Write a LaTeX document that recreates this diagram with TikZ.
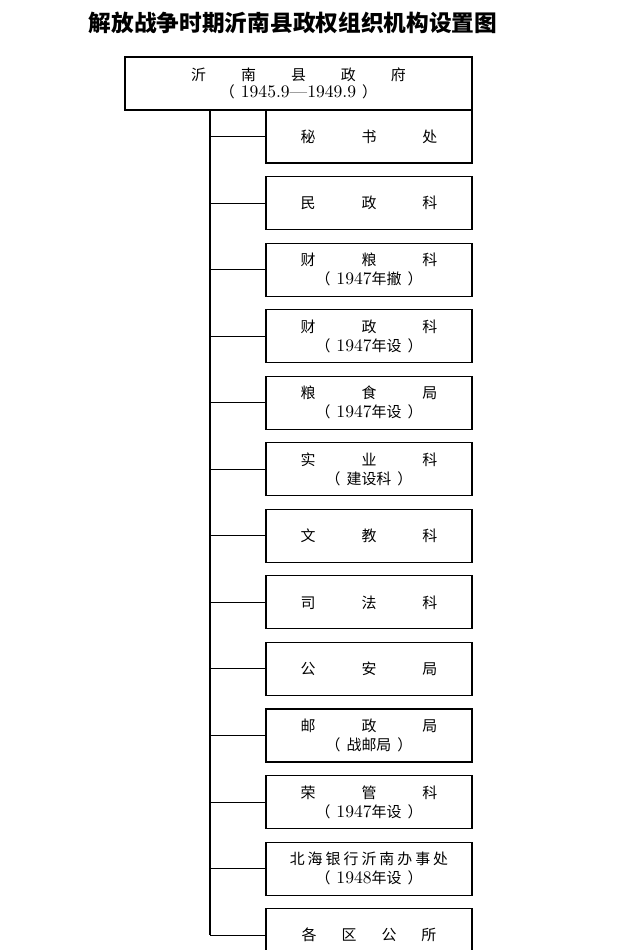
\documentclass[tikz,border=0pt]{standalone}
\usepackage{fontspec}
\newfontfamily\cjk{Noto Sans CJK SC}
\usetikzlibrary{positioning}
\newcommand{\yr}[1]{{\rmfamily\fontsize{10}{9}\selectfont #1}}
\newcommand{\inparen}[1]{（\hspace{0.12cm}#1\hspace{0.12cm}）}
\newcommand{\gapT}{\hspace{0.7cm}}
\newcommand{\gapA}{\hspace{0.92cm}}
\newcommand{\gapB}{\hspace{0.5cm}}

\begin{document}
\begin{tikzpicture}[
      unit/.style={draw, line width=0.6pt, minimum width=4.12cm, minimum height=1.06cm,
         inner sep=0pt, align=center, font=\cjk\fontsize{8.5}{10.8}\selectfont},
      govbox/.style={unit, minimum width=6.94cm, font=\cjk\fontsize{8.5}{9.7}\selectfont},
      title/.style={font=\cjk\bfseries\fontsize{12.9}{15}\selectfont},
      link/.style={line width=0.6pt}
   ]
      \useasboundingbox (0,0) rectangle (12.8,19);
      % Title
      \node[title] (ttl) at (5.86,18.55) {解放战争时期沂南县政权组织机构设置图};
      % County government
      \node[govbox] (gov) at (5.97,17.33) {沂\gapT 南\gapT 县\gapT 政\gapT 府\\\inparen{\yr{1945.9---1949.9}}};
      % Offices, top to bottom
      \node[unit] (b1) at (7.38,16.27) {秘\gapA 书\gapA 处};
      \node[unit, below=0.25cm of b1] (b2) {民\gapA 政\gapA 科};
      \node[unit, below=0.25cm of b2] (b3) {财\gapA 粮\gapA 科\\\inparen{\yr{1947}年撤}};
      \node[unit, below=0.25cm of b3] (b4) {财\gapA 政\gapA 科\\\inparen{\yr{1947}年设}};
      \node[unit, below=0.25cm of b4] (b5) {粮\gapA 食\gapA 局\\\inparen{\yr{1947}年设}};
      \node[unit, below=0.25cm of b5] (b6) {实\gapA 业\gapA 科\\\inparen{建设科}};
      \node[unit, below=0.25cm of b6] (b7) {文\gapA 教\gapA 科};
      \node[unit, below=0.25cm of b7] (b8) {司\gapA 法\gapA 科};
      \node[unit, below=0.25cm of b8] (b9) {公\gapA 安\gapA 局};
      \node[unit, below=0.25cm of b9] (b10) {邮\gapA 政\gapA 局\\\inparen{战邮局}};
      \node[unit, below=0.25cm of b10] (b11) {荣\gapA 管\gapA 科\\\inparen{\yr{1947}年设}};
      \node[unit, below=0.25cm of b11] (b12) {\addfontfeature{LetterSpace=20}北海银行沂南办事处\\\inparen{\yr{1948}年设}};
      \node[unit, below=0.25cm of b12] (b13) {各\gapB 区\gapB 公\gapB 所};
      % Trunk line
      \coordinate (trunk) at (4.2,0);
      \draw[link] (gov.south -| trunk) -- (b13.west -| trunk);
      % Branches
      \draw[link] (b1.west -| trunk) -- (b1.west);
      \draw[link] (b2.west -| trunk) -- (b2.west);
      \draw[link] (b3.west -| trunk) -- (b3.west);
      \draw[link] (b4.west -| trunk) -- (b4.west);
      \draw[link] (b5.west -| trunk) -- (b5.west);
      \draw[link] (b6.west -| trunk) -- (b6.west);
      \draw[link] (b7.west -| trunk) -- (b7.west);
      \draw[link] (b8.west -| trunk) -- (b8.west);
      \draw[link] (b9.west -| trunk) -- (b9.west);
      \draw[link] (b10.west -| trunk) -- (b10.west);
      \draw[link] (b11.west -| trunk) -- (b11.west);
      \draw[link] (b12.west -| trunk) -- (b12.west);
      \draw[link] (b13.west -| trunk) -- (b13.west);
   \end{tikzpicture}
\end{document}
